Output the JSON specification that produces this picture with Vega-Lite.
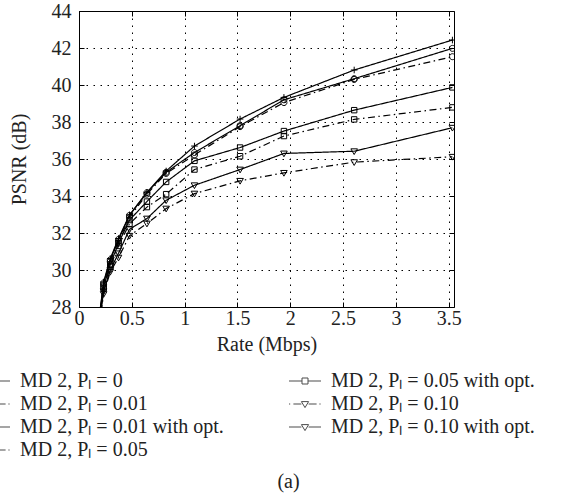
{
  "$schema": "https://vega.github.io/schema/vega-lite/v6.json",
  "width": 375,
  "height": 296,
  "autosize": {"type": "none"},
  "padding": {"left": 79, "top": 11, "right": 118, "bottom": 193},
  "background": "white",
  "config": {
    "font": "Liberation Serif",
    "view": {"stroke": "black", "strokeWidth": 1},
    "axis": {
      "labelFont": "Liberation Serif",
      "titleFont": "Liberation Serif",
      "labelFontSize": 20,
      "titleFontSize": 20,
      "titleFontWeight": "normal",
      "labelColor": "#222",
      "titleColor": "#222",
      "tickColor": "black",
      "tickSize": -5,
      "domain": false
    }
  },
  "title": {"text": "(a)", "orient": "bottom", "anchor": "middle", "fontSize": 20, "fontWeight": "normal", "font": "Liberation Serif", "color": "#222", "offset": 12, "dx": 22},
  "data": {"values": [
    {"series": "MD 2, Pₗ = 0", "rate": 0.19, "psnr": 27.4},
    {"series": "MD 2, Pₗ = 0", "rate": 0.233, "psnr": 29.35},
    {"series": "MD 2, Pₗ = 0", "rate": 0.296, "psnr": 30.62},
    {"series": "MD 2, Pₗ = 0", "rate": 0.374, "psnr": 31.7},
    {"series": "MD 2, Pₗ = 0", "rate": 0.478, "psnr": 32.98},
    {"series": "MD 2, Pₗ = 0", "rate": 0.643, "psnr": 34.2},
    {"series": "MD 2, Pₗ = 0", "rate": 0.825, "psnr": 35.35},
    {"series": "MD 2, Pₗ = 0", "rate": 1.093, "psnr": 36.7},
    {"series": "MD 2, Pₗ = 0", "rate": 1.525, "psnr": 38.16},
    {"series": "MD 2, Pₗ = 0", "rate": 1.94, "psnr": 39.33},
    {"series": "MD 2, Pₗ = 0", "rate": 2.605, "psnr": 40.81},
    {"series": "MD 2, Pₗ = 0", "rate": 3.535, "psnr": 42.43},
    {"series": "MD 2, Pₗ = 0.01", "rate": 0.19, "psnr": 27.2},
    {"series": "MD 2, Pₗ = 0.01", "rate": 0.233, "psnr": 29.2},
    {"series": "MD 2, Pₗ = 0.01", "rate": 0.296, "psnr": 30.45},
    {"series": "MD 2, Pₗ = 0.01", "rate": 0.374, "psnr": 31.55},
    {"series": "MD 2, Pₗ = 0.01", "rate": 0.478, "psnr": 32.85},
    {"series": "MD 2, Pₗ = 0.01", "rate": 0.643, "psnr": 34.1},
    {"series": "MD 2, Pₗ = 0.01", "rate": 0.825, "psnr": 35.22},
    {"series": "MD 2, Pₗ = 0.01", "rate": 1.093, "psnr": 36.22},
    {"series": "MD 2, Pₗ = 0.01", "rate": 1.525, "psnr": 37.75},
    {"series": "MD 2, Pₗ = 0.01", "rate": 1.94, "psnr": 39.05},
    {"series": "MD 2, Pₗ = 0.01", "rate": 2.605, "psnr": 40.3},
    {"series": "MD 2, Pₗ = 0.01", "rate": 3.535, "psnr": 41.53},
    {"series": "MD 2, Pₗ = 0.01 with opt.", "rate": 0.19, "psnr": 27.3},
    {"series": "MD 2, Pₗ = 0.01 with opt.", "rate": 0.233, "psnr": 29.3},
    {"series": "MD 2, Pₗ = 0.01 with opt.", "rate": 0.296, "psnr": 30.55},
    {"series": "MD 2, Pₗ = 0.01 with opt.", "rate": 0.374, "psnr": 31.65},
    {"series": "MD 2, Pₗ = 0.01 with opt.", "rate": 0.478, "psnr": 32.95},
    {"series": "MD 2, Pₗ = 0.01 with opt.", "rate": 0.643, "psnr": 34.18},
    {"series": "MD 2, Pₗ = 0.01 with opt.", "rate": 0.825, "psnr": 35.28},
    {"series": "MD 2, Pₗ = 0.01 with opt.", "rate": 1.093, "psnr": 36.35},
    {"series": "MD 2, Pₗ = 0.01 with opt.", "rate": 1.525, "psnr": 37.8},
    {"series": "MD 2, Pₗ = 0.01 with opt.", "rate": 1.94, "psnr": 39.2},
    {"series": "MD 2, Pₗ = 0.01 with opt.", "rate": 2.605, "psnr": 40.34},
    {"series": "MD 2, Pₗ = 0.01 with opt.", "rate": 3.535, "psnr": 41.98},
    {"series": "MD 2, Pₗ = 0.05", "rate": 0.19, "psnr": 27.1},
    {"series": "MD 2, Pₗ = 0.05", "rate": 0.233, "psnr": 29.0},
    {"series": "MD 2, Pₗ = 0.05", "rate": 0.296, "psnr": 30.2},
    {"series": "MD 2, Pₗ = 0.05", "rate": 0.374, "psnr": 31.3},
    {"series": "MD 2, Pₗ = 0.05", "rate": 0.478, "psnr": 32.5},
    {"series": "MD 2, Pₗ = 0.05", "rate": 0.643, "psnr": 33.4},
    {"series": "MD 2, Pₗ = 0.05", "rate": 0.825, "psnr": 34.1},
    {"series": "MD 2, Pₗ = 0.05", "rate": 1.093, "psnr": 35.43},
    {"series": "MD 2, Pₗ = 0.05", "rate": 1.525, "psnr": 36.15},
    {"series": "MD 2, Pₗ = 0.05", "rate": 1.94, "psnr": 37.24},
    {"series": "MD 2, Pₗ = 0.05", "rate": 2.605, "psnr": 38.14},
    {"series": "MD 2, Pₗ = 0.05", "rate": 3.535, "psnr": 38.79},
    {"series": "MD 2, Pₗ = 0.05 with opt.", "rate": 0.19, "psnr": 27.2},
    {"series": "MD 2, Pₗ = 0.05 with opt.", "rate": 0.233, "psnr": 29.1},
    {"series": "MD 2, Pₗ = 0.05 with opt.", "rate": 0.296, "psnr": 30.3},
    {"series": "MD 2, Pₗ = 0.05 with opt.", "rate": 0.374, "psnr": 31.45},
    {"series": "MD 2, Pₗ = 0.05 with opt.", "rate": 0.478, "psnr": 32.7},
    {"series": "MD 2, Pₗ = 0.05 with opt.", "rate": 0.643, "psnr": 33.7},
    {"series": "MD 2, Pₗ = 0.05 with opt.", "rate": 0.825, "psnr": 34.76},
    {"series": "MD 2, Pₗ = 0.05 with opt.", "rate": 1.093, "psnr": 35.9},
    {"series": "MD 2, Pₗ = 0.05 with opt.", "rate": 1.525, "psnr": 36.62},
    {"series": "MD 2, Pₗ = 0.05 with opt.", "rate": 1.94, "psnr": 37.51},
    {"series": "MD 2, Pₗ = 0.05 with opt.", "rate": 2.605, "psnr": 38.64},
    {"series": "MD 2, Pₗ = 0.05 with opt.", "rate": 3.535, "psnr": 39.87},
    {"series": "MD 2, Pₗ = 0.10", "rate": 0.19, "psnr": 26.9},
    {"series": "MD 2, Pₗ = 0.10", "rate": 0.233, "psnr": 28.7},
    {"series": "MD 2, Pₗ = 0.10", "rate": 0.296, "psnr": 29.9},
    {"series": "MD 2, Pₗ = 0.10", "rate": 0.374, "psnr": 30.67},
    {"series": "MD 2, Pₗ = 0.10", "rate": 0.478, "psnr": 31.85},
    {"series": "MD 2, Pₗ = 0.10", "rate": 0.643, "psnr": 32.51},
    {"series": "MD 2, Pₗ = 0.10", "rate": 0.825, "psnr": 33.32},
    {"series": "MD 2, Pₗ = 0.10", "rate": 1.093, "psnr": 34.13},
    {"series": "MD 2, Pₗ = 0.10", "rate": 1.525, "psnr": 34.82},
    {"series": "MD 2, Pₗ = 0.10", "rate": 1.94, "psnr": 35.25},
    {"series": "MD 2, Pₗ = 0.10", "rate": 2.605, "psnr": 35.83},
    {"series": "MD 2, Pₗ = 0.10", "rate": 3.535, "psnr": 36.12},
    {"series": "MD 2, Pₗ = 0.10 with opt.", "rate": 0.19, "psnr": 27.0},
    {"series": "MD 2, Pₗ = 0.10 with opt.", "rate": 0.233, "psnr": 28.85},
    {"series": "MD 2, Pₗ = 0.10 with opt.", "rate": 0.296, "psnr": 30.0},
    {"series": "MD 2, Pₗ = 0.10 with opt.", "rate": 0.374, "psnr": 30.9},
    {"series": "MD 2, Pₗ = 0.10 with opt.", "rate": 0.478, "psnr": 32.2},
    {"series": "MD 2, Pₗ = 0.10 with opt.", "rate": 0.643, "psnr": 32.78},
    {"series": "MD 2, Pₗ = 0.10 with opt.", "rate": 0.825, "psnr": 33.77},
    {"series": "MD 2, Pₗ = 0.10 with opt.", "rate": 1.093, "psnr": 34.58},
    {"series": "MD 2, Pₗ = 0.10 with opt.", "rate": 1.525, "psnr": 35.43},
    {"series": "MD 2, Pₗ = 0.10 with opt.", "rate": 1.94, "psnr": 36.3},
    {"series": "MD 2, Pₗ = 0.10 with opt.", "rate": 2.605, "psnr": 36.42},
    {"series": "MD 2, Pₗ = 0.10 with opt.", "rate": 3.535, "psnr": 37.69}
  ]},
  "layer": [
    {
      "mark": {"type": "line", "clip": true, "color": "black", "strokeWidth": 1.2},
      "encoding": {
        "x": {"field": "rate", "type": "quantitative", "scale": {"domain": [0, 3.55], "nice": false, "zero": false},
          "axis": {"orient": "bottom", "values": [0, 0.5, 1, 1.5, 2, 2.5, 3, 3.5], "format": "~g", "title": "Rate (Mbps)", "grid": true, "gridColor": "black", "gridDash": [1.5, 5.5], "gridOpacity": 1, "gridWidth": 1, "labelPadding": 6, "titlePadding": 6, "labelFlush": false}},
        "y": {"field": "psnr", "type": "quantitative", "scale": {"domain": [28, 44], "nice": false, "zero": false},
          "axis": {"orient": "left", "values": [28, 30, 32, 34, 36, 38, 40, 42, 44], "title": "PSNR (dB)", "grid": true, "gridColor": "black", "gridDash": [1.5, 5.5], "gridOpacity": 1, "gridWidth": 1, "labelPadding": 13, "titlePadding": 22, "labelFlush": false}},
        "strokeDash": {"field": "series", "type": "nominal", "legend": null,
          "scale": {"domain": ["MD 2, Pₗ = 0", "MD 2, Pₗ = 0.01", "MD 2, Pₗ = 0.01 with opt.", "MD 2, Pₗ = 0.05", "MD 2, Pₗ = 0.05 with opt.", "MD 2, Pₗ = 0.10", "MD 2, Pₗ = 0.10 with opt."],
            "range": [[1, 0], [7, 3.5, 1.5, 3.5], [1, 0], [7, 3.5, 1.5, 3.5], [1, 0], [7, 3.5, 1.5, 3.5], [1, 0]]}}
      }
    },
    {
      "mark": {"type": "point", "clip": true, "filled": false, "color": "black", "strokeWidth": 1, "size": 36, "opacity": 1},
      "encoding": {
        "x": {"field": "rate", "type": "quantitative", "axis": {"orient": "top", "values": [0, 0.5, 1, 1.5, 2, 2.5, 3, 3.5], "labels": false, "title": null, "grid": false}},
        "y": {"field": "psnr", "type": "quantitative", "axis": {"orient": "right", "values": [28, 30, 32, 34, 36, 38, 40, 42, 44], "labels": false, "title": null, "grid": false}},
        "shape": {"field": "series", "type": "nominal", "legend": null,
          "scale": {"domain": ["MD 2, Pₗ = 0", "MD 2, Pₗ = 0.01", "MD 2, Pₗ = 0.01 with opt.", "MD 2, Pₗ = 0.05", "MD 2, Pₗ = 0.05 with opt.", "MD 2, Pₗ = 0.10", "MD 2, Pₗ = 0.10 with opt."],
            "range": ["M-1.1,0L1.1,0M0,-1.1L0,1.1", "M-1,0A1,1 0 1,0 1,0A1,1 0 1,0 -1,0", "M-1,0A1,1 0 1,0 1,0A1,1 0 1,0 -1,0", "M-0.9,-0.9L0.9,-0.9L0.9,0.9L-0.9,0.9Z", "M-0.9,-0.9L0.9,-0.9L0.9,0.9L-0.9,0.9Z", "M-1.1,-0.8L1.1,-0.8L0,1.1Z", "M-1.1,-0.8L1.1,-0.8L0,1.1Z"]}}
      }
    },
    {
      "transform": [{"filter": "datum.rate < 0"}],
      "mark": {"type": "point", "filled": false, "color": "black", "strokeWidth": 1},
      "encoding": {
        "x": {"field": "rate", "type": "quantitative", "axis": null},
        "y": {"field": "psnr", "type": "quantitative", "axis": null},
        "shape": {"field": "series", "type": "nominal",
          "scale": {"domain": ["MD 2, Pₗ = 0", "MD 2, Pₗ = 0.01", "MD 2, Pₗ = 0.01 with opt.", "MD 2, Pₗ = 0.05", "MD 2, Pₗ = 0.05 with opt.", "MD 2, Pₗ = 0.10", "MD 2, Pₗ = 0.10 with opt."],
            "range": [
              "M-2,0L2,0M0,-0.45L0,0.45",
              "M-2,0L-1.85,0M-1.45,0L-0.4,0M0.4,0L1.45,0M1.8,0L1.95,0M-0.375,0A0.375,0.375 0 1,0 0.375,0A0.375,0.375 0 1,0 -0.375,0",
              "M-2,0L-0.375,0M0.375,0L2,0M-0.375,0A0.375,0.375 0 1,0 0.375,0A0.375,0.375 0 1,0 -0.375,0",
              "M-2,0L-1.85,0M-1.45,0L-0.4,0M0.4,0L1.45,0M1.8,0L1.95,0M-0.375,-0.375L0.375,-0.375L0.375,0.375L-0.375,0.375Z",
              "M-2,0L-0.375,0M0.375,0L2,0M-0.375,-0.375L0.375,-0.375L0.375,0.375L-0.375,0.375Z",
              "M-2,0L-1.85,0M-1.45,0L-0.45,0M0.45,0L1.45,0M1.8,0L1.95,0M-0.45,-0.3L0.45,-0.3L0,0.45Z",
              "M-2,0L-0.45,0M0.45,0L2,0M-0.45,-0.3L0.45,-0.3L0,0.45Z"
            ]},
          "legend": {"orient": "none", "legendX": -95, "legendY": 360, "columns": 2, "title": null, "symbolSize": 256, "symbolStrokeWidth": 1, "symbolStrokeColor": "black", "labelFont": "Liberation Serif", "labelFontSize": 20, "labelColor": "#222", "labelOffset": 16, "labelLimit": 400, "columnPadding": 63, "rowPadding": 3}
        }
      }
    }
  ],
  "resolve": {"scale": {"shape": "independent"}, "axis": {"x": "independent", "y": "independent"}}
}
